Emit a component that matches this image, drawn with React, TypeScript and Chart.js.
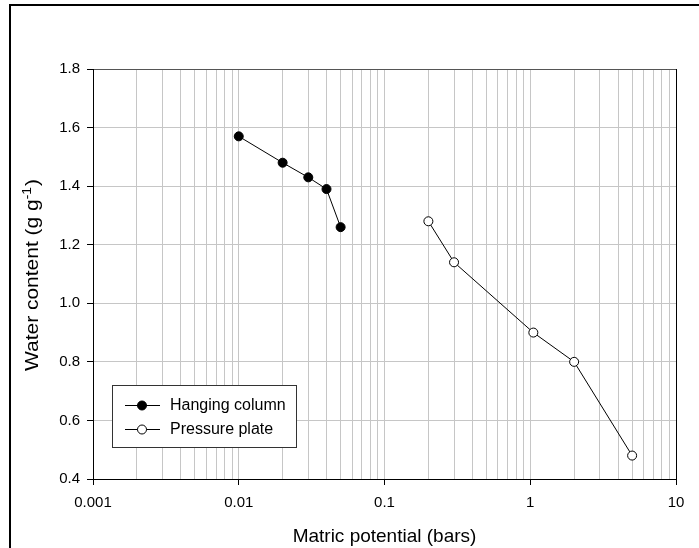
import React, { useEffect, useRef } from "react";
import { Chart, registerables } from "chart.js";

Chart.register(...registerables);

// ---- data ----
const hangingX = [0.01, 0.02, 0.03, 0.04, 0.05];
const hangingY = [1.57, 1.48, 1.43, 1.39, 1.26];
const plateX = [0.2, 0.3, 1.05, 2, 5];
const plateY = [1.28, 1.14, 0.9, 0.8, 0.48];

const seriesNames = ["Hanging column", "Pressure plate"];
const xDecades = [0.001, 0.01, 0.1, 1, 10];
const xDecadeLabels = ["0.001", "0.01", "0.1", "1", "10"];
const xMinorMultipliers = [2, 3, 4, 5, 6, 7, 8, 9];
const yMin = 0.4;
const yMax = 1.8;
const yStep = 0.2;

const xTitle = "Matric potential (bars)";
const yTitleMain = "Water content (g g";
const yTitleSup = "-1";
const yTitleEnd = ")";

const FONT = "'Liberation Sans', Arial, Helvetica, sans-serif";

const xTicks: { value: number; major: boolean; label: string }[] = [];
xDecades.forEach((d, i) => {
  xTicks.push({ value: d, major: true, label: xDecadeLabels[i] });
  if (i < xDecades.length - 1) {
    xMinorMultipliers.forEach((m) => xTicks.push({ value: m * d, major: false, label: "" }));
  }
});

const overlay = {
  id: "overlay",
  afterDraw(chart: any) {
    const ctx = chart.ctx as CanvasRenderingContext2D;
    const ca = chart.chartArea;
    ctx.save();
    // outer frame
    ctx.fillStyle = "#000";
    ctx.fillRect(9, 4, 2, 560);
    ctx.fillRect(9, 4, 720, 2);
    // right border of plot
    ctx.fillRect(Math.round(ca.right), Math.round(ca.top), 1, Math.round(ca.bottom - ca.top) + 1);

    // legend
    const lx = 112.5, ly = 385.5, lw = 184, lh = 62;
    ctx.fillStyle = "#fff";
    ctx.fillRect(lx, ly, lw, lh);
    ctx.strokeStyle = "#333";
    ctx.lineWidth = 1;
    ctx.strokeRect(lx, ly, lw, lh);
    const rows = [405.5, 429.5];
    const fills = ["#000", "#fff"];
    rows.forEach((ry, i) => {
      ctx.strokeStyle = "#000";
      ctx.lineWidth = 1;
      ctx.beginPath();
      ctx.moveTo(125, ry);
      ctx.lineTo(160, ry);
      ctx.stroke();
      ctx.beginPath();
      ctx.arc(142, ry, 4.5, 0, Math.PI * 2);
      ctx.fillStyle = fills[i];
      ctx.fill();
      ctx.stroke();
      ctx.fillStyle = "#000";
      ctx.font = `16px ${FONT}`;
      ctx.textAlign = "left";
      ctx.textBaseline = "middle";
      ctx.fillText(seriesNames[i], 170, ry);
    });

    // y title with superscript
    const size = 19;
    const supSize = 12.5;
    ctx.font = `${size}px ${FONT}`;
    const w1 = ctx.measureText(yTitleMain).width;
    const w3 = ctx.measureText(yTitleEnd).width;
    ctx.font = `${supSize}px ${FONT}`;
    const w2 = ctx.measureText(yTitleSup).width + 1;
    const total = w1 + w2 + w3;
    const stretch = 192 / total;
    ctx.translate(38, 275);
    ctx.rotate(-Math.PI / 2);
    ctx.scale(stretch, 1);
    ctx.fillStyle = "#000";
    ctx.textAlign = "left";
    ctx.textBaseline = "alphabetic";
    let x0 = -total / 2;
    ctx.font = `${size}px ${FONT}`;
    ctx.fillText(yTitleMain, x0, 0);
    x0 += w1;
    ctx.font = `${supSize}px ${FONT}`;
    ctx.fillText(yTitleSup, x0, -7);
    x0 += w2;
    ctx.font = `${size}px ${FONT}`;
    ctx.fillText(yTitleEnd, x0, 0);
    ctx.restore();
  },
};

export default function App() {
  const ref = useRef<HTMLCanvasElement | null>(null);
  useEffect(() => {
    if (!ref.current) return;
    const chart = new Chart(ref.current, {
      type: "scatter",
      data: {
        datasets: [
          {
            label: seriesNames[0],
            data: hangingX.map((x, i) => ({ x, y: hangingY[i] })),
            showLine: true,
            borderColor: "#000",
            borderWidth: 1,
            backgroundColor: "#000",
            pointBackgroundColor: "#000",
            pointBorderColor: "#000",
            pointBorderWidth: 1,
            pointRadius: 4.5,
          },
          {
            label: seriesNames[1],
            data: plateX.map((x, i) => ({ x, y: plateY[i] })),
            showLine: true,
            borderColor: "#000",
            borderWidth: 1,
            backgroundColor: "#fff",
            pointBackgroundColor: "#fff",
            pointBorderColor: "#000",
            pointBorderWidth: 1,
            pointRadius: 4.5,
          },
        ],
      },
      options: {
        responsive: false,
        animation: false,
        devicePixelRatio: 1,
        layout: { padding: { left: 0, top: 69, right: 23, bottom: 0 } },
        plugins: { legend: { display: false }, tooltip: { enabled: false } },
        scales: {
          x: {
            type: "logarithmic",
            min: 0.001,
            max: 10,
            afterBuildTicks: (scale: any) => {
              scale.ticks = xTicks.map((t) => ({ value: t.value, major: t.major }));
            },
            afterFit: (scale: any) => {
              scale.height = 69;
            },
            border: { color: "#000", width: 1 },
            grid: {
              color: "#c6c6c6",
              lineWidth: 1,
              drawTicks: true,
              tickLength: 6,
              tickColor: (ctx: any) => (ctx.tick && ctx.tick.major ? "#000" : "rgba(0,0,0,0)"),
            },
            ticks: {
              autoSkip: false,
              maxRotation: 0,
              padding: 9,
              color: "#000",
              font: { family: FONT, size: 15 },
              callback: (_v: any, index: number) => xTicks[index].label,
            },
            title: {
              display: true,
              text: xTitle,
              color: "#000",
              font: { family: FONT, size: 19 },
              padding: { top: 0, bottom: 0 },
            },
          },
          y: {
            min: yMin,
            max: yMax,
            afterFit: (scale: any) => {
              scale.width = 93;
            },
            border: { color: "#000", width: 1 },
            grid: {
              color: (ctx: any) => (ctx.tick && Math.abs(ctx.tick.value - yMax) < 1e-6 ? "#555" : "#c6c6c6"),
              lineWidth: 1,
              drawTicks: true,
              tickLength: 6,
              tickColor: "#000",
            },
            ticks: {
              stepSize: yStep,
              padding: 7,
              color: "#000",
              font: { family: FONT, size: 15 },
              callback: (v: any) => Number(v).toFixed(1),
            },
            title: { display: false },
          },
        },
      },
      plugins: [overlay],
    });
    return () => chart.destroy();
  }, []);
  return (
    <div style={{ position: "fixed", left: 0, top: 0, width: 699, height: 548, background: "#fff" }}>
      <canvas ref={ref} width={699} height={548} style={{ width: 699, height: 548 }} />
    </div>
  );
}
